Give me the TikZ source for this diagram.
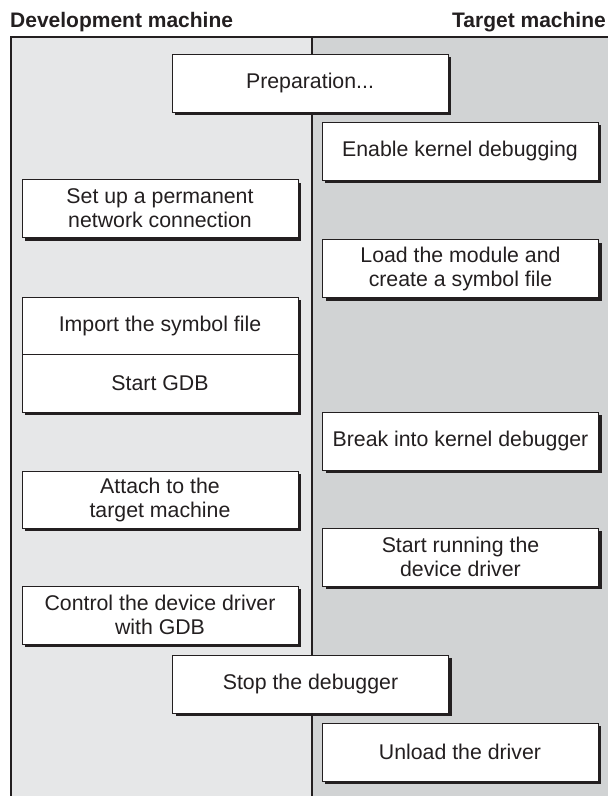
\documentclass[tikz,border=0pt]{standalone}
\usepackage{fontspec}
\setmainfont{Liberation Sans}
\usetikzlibrary{shadows}
\definecolor{leftc}{HTML}{E6E7E8}
\definecolor{rightc}{HTML}{D1D3D4}
\definecolor{linec}{HTML}{231F20}
\begin{document}
\begin{tikzpicture}[x=1pt,y=-1pt,
  box/.style={draw=linec, line width=0.8pt, fill=white, minimum width=276pt,
    minimum height=58pt, inner sep=0pt, align=center, text=linec,
    font=\fontsize{21.3}{24}\selectfont,
    drop shadow={shadow xshift=3pt, shadow yshift=-3pt, opacity=1, fill=linec}},
  head/.style={inner sep=0pt, text=linec, font=\bfseries\fontsize{21}{24}\selectfont},
]
\useasboundingbox (0,0) rectangle (608,796);
\fill[leftc] (10,37) rectangle (312,796);
\fill[rightc] (312,37) rectangle (608,796);
\draw[linec, line width=2pt] (10.5,796) -- (10.5,37) -- (608,37);
\draw[linec, line width=2pt] (312,37) -- (312,796);

\node[head, anchor=base west] (dev) at (10,27) {Development machine};
\node[head, anchor=base east] (tgt) at (606,27) {Target machine};

\node[box] (prep) at (310,83) {Preparation...};
\node[box] (enable) at (460,151) {Enable kernel debugging};
\node[box] (setup) at (160,208.5) {Set up a permanent\\network connection};
\node[box] (load) at (460.5,268.5) {Load the module and\\create a symbol file};
\node[box, minimum height=57pt] (import) at (160,325.5) {Import the symbol file};
\node[box] (gdb) at (160,383) {Start GDB};
\node[box] (break) at (460.5,441) {Break into kernel debugger};
\node[box, minimum height=57pt] (attach) at (160,499.5) {Attach to the\\target machine};
\node[box] (run) at (460.5,557) {Start running the\\device driver};
\node[box] (control) at (160,615) {Control the device driver\\with GDB};
\node[box] (stop) at (310.5,684) {Stop the debugger};
\node[box] (unload) at (460,752) {Unload the driver};
\end{tikzpicture}
\end{document}
